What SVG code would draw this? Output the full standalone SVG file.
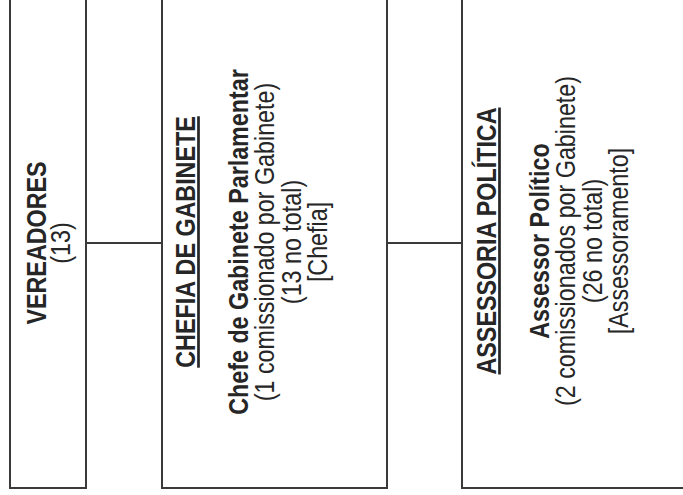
<svg xmlns="http://www.w3.org/2000/svg" width="683" height="495" viewBox="0 0 683 495">
  <style>
    .box { fill: #ffffff; stroke: #3a3a3a; stroke-width: 2; }
    .conn { stroke: #3a3a3a; stroke-width: 1.8; fill: none; }
    text { font-family: "Liberation Sans", Arial, sans-serif; font-size: 23.3px; fill: #262626; text-anchor: middle; }
    .b { font-weight: bold; }
    .u { font-weight: bold; text-decoration: underline; }
  </style>
  <rect x="0" y="0" width="683" height="495" fill="#ffffff"/>
  <g id="connectors">
    <line class="conn" x1="86" y1="243" x2="162" y2="243"/>
    <line class="conn" x1="387" y1="243" x2="462" y2="243"/>
  </g>
  <g id="vereadores">
    <rect class="box" x="10" y="-10" width="76" height="498"/>
    <text class="b" transform="translate(46,243) scale(1.16,1) rotate(-90)">VEREADORES</text>
    <text transform="translate(70,243) scale(1.16,1) rotate(-90)">(13)</text>
  </g>
  <g id="chefia">
    <rect class="box" x="162" y="-10" width="225" height="498"/>
    <text class="u" transform="translate(195,242) scale(1.16,1) rotate(-90)">CHEFIA DE GABINETE</text>
    <text class="b" transform="translate(248,242) scale(1.16,1) rotate(-90)">Chefe de Gabinete Parlamentar</text>
    <text transform="translate(274,242) scale(1.16,1) rotate(-90)">(1 comissionado por Gabinete)</text>
    <text transform="translate(301,242) scale(1.16,1) rotate(-90)">(13 no total)</text>
    <text transform="translate(327,242) scale(1.16,1) rotate(-90)">[Chefia]</text>
  </g>
  <g id="assessoria">
    <rect class="box" x="462" y="-10" width="240" height="498"/>
    <text class="u" transform="translate(496,241) scale(1.16,1) rotate(-90)">ASSESSORIA POLÍTICA</text>
    <text class="b" transform="translate(549,241) scale(1.16,1) rotate(-90)">Assessor Político</text>
    <text transform="translate(575,241) scale(1.16,1) rotate(-90)">(2 comissionados por Gabinete)</text>
    <text transform="translate(602,241) scale(1.16,1) rotate(-90)">(26 no total)</text>
    <text transform="translate(628,241) scale(1.16,1) rotate(-90)">[Assessoramento]</text>
  </g>
</svg>
